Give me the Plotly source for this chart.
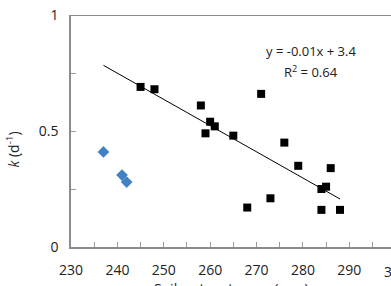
import numpy as np
import plotly.graph_objects as go

# Data
blue_x = [237, 241, 242]
blue_y = [0.41, 0.31, 0.28]

black_x = [245, 248, 258, 259, 260, 261, 265, 268, 271, 273, 276, 279, 284, 284, 285, 286, 288]
black_y = [0.69, 0.68, 0.61, 0.49, 0.54, 0.52, 0.48, 0.17, 0.66, 0.21, 0.45, 0.35, 0.25, 0.16, 0.26, 0.34, 0.16]

trend_x = [237, 288]
trend_y = [0.783, 0.207]

x_ticks = [230, 240, 250, 260, 270, 280, 290]
y_ticks = [0, 0.5, 1]

FONT = "Open Sans"

fig = go.Figure()
fig.add_trace(go.Scatter(x=trend_x, y=trend_y, mode="lines",
                         line=dict(color="black", width=1), showlegend=False))
fig.add_trace(go.Scatter(x=blue_x, y=blue_y, mode="markers",
                         marker=dict(symbol="diamond", size=9, color="#4181c6"),
                         showlegend=False))
fig.add_trace(go.Scatter(x=black_x, y=black_y, mode="markers",
                         marker=dict(symbol="square", size=8, color="black"),
                         showlegend=False))

fig.update_layout(
    width=391, height=286,
    margin=dict(l=71, r=0, t=15, b=39, autoexpand=False),
    plot_bgcolor="white", paper_bgcolor="white",
    font=dict(family=FONT, size=14, color="#222"),
    xaxis=dict(range=[230, 299], tickvals=x_ticks, ticks="inside", ticklen=5,
               tickcolor="#999", showline=True, linecolor="#8c8c8c", linewidth=1.5,
               showgrid=False, zeroline=False,
               minor=dict(dtick=5, tick0=230, ticks="inside", ticklen=5, tickcolor="#999"),
               tickfont=dict(size=14), ticklabelstandoff=9, automargin=False),
    yaxis=dict(range=[0, 1], tickvals=y_ticks, ticktext=["0", "0.5", "1"],
               ticks="inside", ticklen=5, tickcolor="#999",
               showline=True, linecolor="#8c8c8c", linewidth=1.5,
               showgrid=False, zeroline=False,
               minor=dict(dtick=0.25, tick0=0, ticks="inside", ticklen=5, tickcolor="#999"),
               tickfont=dict(size=14), ticklabelstandoff=8, automargin=False),
)

# top line at y = 1
fig.add_shape(type="line", xref="paper", yref="y", x0=0, x1=1, y0=1, y1=1,
              line=dict(color="#8c8c8c", width=2))

# partially visible "300" label
fig.add_annotation(xref="paper", yref="paper", x=(300 - 230) / 69, y=0,
                   yshift=-24, text="300", showarrow=False, xanchor="center",
                   yanchor="middle",
                   font=dict(size=14, family=FONT, color="#222"))

# axis titles
fig.add_annotation(xref="paper", yref="paper", x=0.5, y=0, yshift=-30,
                   text="Soil water storage (mm)", showarrow=False,
                   xanchor="center", yanchor="top",
                   font=dict(size=14, family=FONT, color="#222"))
fig.add_annotation(xref="paper", yref="paper", x=0, xshift=-58, y=0.42,
                   text="<i>k</i> (d<sup>-1</sup>)", showarrow=False, textangle=-90,
                   xanchor="center", yanchor="middle",
                   font=dict(size=14, family=FONT, color="#222"))

# equation
fig.add_annotation(xref="x", yref="y", x=281.8, y=0.845,
                   text="y = -0.01x + 3.4", showarrow=False,
                   xanchor="center", yanchor="middle",
                   font=dict(size=13, family=FONT, color="#222"))
fig.add_annotation(xref="x", yref="y", x=281.8, y=0.755,
                   text="R<sup>2</sup> = 0.64", showarrow=False,
                   xanchor="center", yanchor="middle",
                   font=dict(size=13, family=FONT, color="#222"))

fig.write_html("out.html")
